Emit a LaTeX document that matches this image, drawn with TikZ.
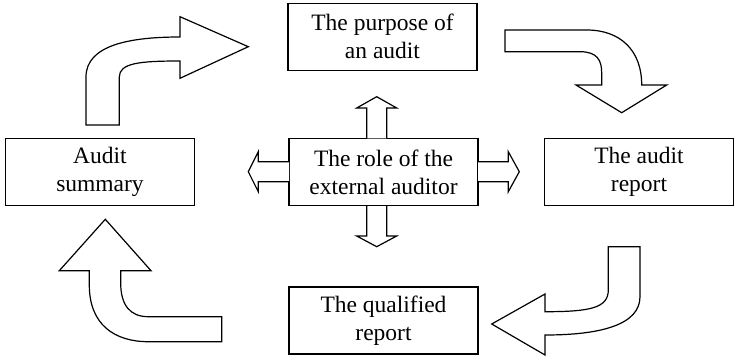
\documentclass[tikz,border=0pt]{standalone}
\usepackage{fontspec}
\setmainfont{Liberation Serif}
\newfontfamily\boxfont{Liberation Serif}
\begin{document}
\begin{tikzpicture}[x=1pt,y=-1pt,
  box/.style={draw, line width=1.2pt, fill=white, rectangle, minimum width=189pt,
    minimum height=67pt, align=center, inner sep=0pt,
    font=\boxfont\fontsize{23.5}{28}\selectfont},
  blockarrow/.style={draw, line width=1.2pt, fill=white, line join=miter}]
\useasboundingbox (0,0) rectangle (735,356);

% the five topic boxes
\node[box] (purpose)   at (382.5,36.7) {The purpose of\\an audit};
\node[box] (role)      at (383.5,172.2) {The role of the\\external auditor};
\node[box] (summary)   at (100,172.2)  {Audit\\summary};
\node[box] (report)    at (639,172.2)  {The audit\\report};
\node[box] (qualified) at (383.5,320.5) {The qualified\\report};

% short block arrows leaving the central box
\draw[blockarrow] (366.7,138.3) -- (366.7,108) -- (356.7,108) -- (376.7,96.7)
  -- (396.7,108) -- (386.7,108) -- (386.7,138.3);
\draw[blockarrow] (366.7,206) -- (366.7,236) -- (356.7,236) -- (376.7,246.7)
  -- (396.7,236) -- (386.7,236) -- (386.7,206);
\draw[blockarrow] (289,161.7) -- (258.3,161.7) -- (258.3,151.7) -- (248.3,171.7)
  -- (258.3,191.7) -- (258.3,181.7) -- (289,181.7);
\draw[blockarrow] (478,161.7) -- (508.3,161.7) -- (508.3,151.7) -- (519.3,171.7)
  -- (508.3,191.7) -- (508.3,181.7) -- (478,181.7);

% curved block arrows running clockwise round the cycle
\draw[blockarrow] (86,125) -- (86,77) .. controls (86,45) and (130,37) .. (180,37)
  -- (180,16.7) -- (248.3,46.7) -- (180,78.3) -- (180,61)
  .. controls (140,61) and (119.3,63) .. (119.3,77) -- (119.3,125) -- cycle;
\draw[blockarrow] (505,30) -- (586.7,30) .. controls (620,30) and (641.7,50) .. (641.7,85)
  -- (666.7,85) -- (621.7,112.7) -- (576,85) -- (601.7,85) -- (601.7,73)
  .. controls (601.7,60) and (597,51.7) .. (580,51.7) -- (505,51.7) -- cycle;
\draw[blockarrow] (608.3,246.7) -- (640,246.7) -- (640,296.7)
  .. controls (640,325) and (600,335) .. (545,335) -- (545,355) -- (491.7,324)
  -- (545,294) -- (545,311.7) .. controls (590,311.7) and (608.3,308) .. (608.3,290)
  -- cycle;
\draw[blockarrow] (105.3,219.3) -- (151,270.7) -- (120.7,270.7) -- (120.7,283)
  .. controls (120.7,305) and (130,316.7) .. (148.3,316.7) -- (221.7,316.7)
  -- (221.7,341.7) -- (148.3,341.7) .. controls (115,341.7) and (89.3,325) .. (89.3,285)
  -- (89.3,270.7) -- (59.3,270.7) -- cycle;
\end{tikzpicture}
\end{document}
